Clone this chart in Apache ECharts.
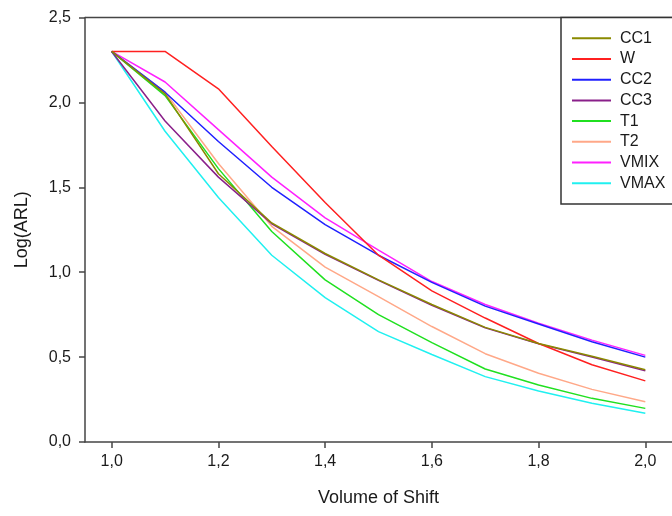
<!DOCTYPE html>
<html>
<head>
<meta charset="utf-8">
<script src="https://cdn.jsdelivr.net/npm/echarts@6/dist/echarts.min.js"></script>
<style>
html,body{margin:0;padding:0;background:#fff;}
#chart{width:672px;height:516px;}
</style>
</head>
<body>
<div id="chart"></div>
<script>
const shifts = [1.0, 1.1, 1.2, 1.3, 1.4, 1.5, 1.6, 1.7, 1.8, 1.9, 2.0];
const xTicks = [1.0, 1.2, 1.4, 1.6, 1.8, 2.0];
const yTicks = [0, 0.5, 1.0, 1.5, 2.0, 2.5];

const seriesNames = ['CC1', 'W', 'CC2', 'CC3', 'T1', 'T2', 'VMIX', 'VMAX'];
const cc1  = [2.30, 2.05, 1.58, 1.29, 1.11, 0.955, 0.81, 0.675, 0.58, 0.505, 0.425];
const w    = [2.30, 2.30, 2.08, 1.74, 1.41, 1.10, 0.89, 0.73, 0.58, 0.455, 0.36];
const cc2  = [2.30, 2.06, 1.77, 1.50, 1.28, 1.10, 0.94, 0.80, 0.695, 0.59, 0.50];
const cc3  = [2.30, 1.89, 1.56, 1.285, 1.105, 0.952, 0.805, 0.672, 0.578, 0.50, 0.42];
const t1   = [2.30, 2.04, 1.61, 1.24, 0.955, 0.75, 0.585, 0.43, 0.336, 0.257, 0.198];
const t2   = [2.30, 2.06, 1.64, 1.27, 1.03, 0.856, 0.68, 0.52, 0.405, 0.31, 0.237];
const vmix = [2.30, 2.12, 1.84, 1.56, 1.32, 1.13, 0.945, 0.81, 0.70, 0.60, 0.51];
const vmax = [2.30, 1.83, 1.44, 1.10, 0.85, 0.65, 0.515, 0.385, 0.30, 0.228, 0.169];

const allValues = [cc1, w, cc2, cc3, t1, t2, vmix, vmax];
const colors = ['#8a8a00', '#ff2020', '#2020ff', '#8a208a', '#20e020', '#ffa888', '#ff20ff', '#20f0f0'];

const axisColor = '#454545';
const fontFam = '"Liberation Sans", Arial, sans-serif';
const fmt = v => Number(v).toFixed(1).replace('.', ',');

const chart = echarts.init(document.getElementById('chart'), null, {renderer: 'canvas'});
chart.setOption({
  backgroundColor: '#ffffff',
  animation: false,
  grid: {
    left: 85, right: -4.25, top: 17.5, bottom: 74,
    show: false
  },
  graphic: [{
    type: 'polyline', z: 90, silent: true,
    shape: {points: [[720, 204], [561, 204], [561, 17.5], [720, 17.5]]},
    style: {fill: '#ffffff', stroke: '#333', lineWidth: 1.5}
  }, {
    type: 'line', z: 5, silent: true,
    shape: {x1: 85, y1: 17.5, x2: 720, y2: 17.5},
    style: {stroke: axisColor, lineWidth: 1.5}
  }],
  legend: {
    orient: 'vertical',
    left: 561, top: 17.5,
    z: 100,
    data: seriesNames,
    icon: 'rect',
    itemWidth: 39, itemHeight: 2,
    itemGap: 4.7,
    padding: [12.8, 4, 12.7, 11],
    textStyle: {fontFamily: fontFam, fontSize: 16, color: '#1a1a1a', padding: [0, 0, 0, 4]}
  },
  xAxis: {
    type: 'value', min: 0.95, max: 2.05,
    name: 'Volume of Shift', nameLocation: 'middle', nameGap: 47,
    nameTextStyle: {fontFamily: fontFam, fontSize: 18, color: '#1a1a1a'},
    axisLine: {show: true, onZero: false, lineStyle: {color: axisColor, width: 1.5}},
    axisTick: {show: true, length: 6, customValues: xTicks, lineStyle: {color: axisColor, width: 1.5}},
    axisLabel: {customValues: xTicks, formatter: fmt, margin: 12, fontFamily: fontFam, fontSize: 16, color: '#1a1a1a'},
    splitLine: {show: false}
  },
  yAxis: {
    type: 'value', min: 0, max: 2.5, interval: 0.5,
    name: 'Log(ARL)', nameLocation: 'middle', nameGap: 54,
    nameTextStyle: {fontFamily: fontFam, fontSize: 18, color: '#1a1a1a'},
    axisLine: {show: true, lineStyle: {color: axisColor, width: 1.5}},
    axisTick: {show: true, length: 6, lineStyle: {color: axisColor, width: 1.5}},
    axisLabel: {formatter: fmt, margin: 14, fontFamily: fontFam, fontSize: 16, color: '#1a1a1a'},
    splitLine: {show: false}
  },
  series: seriesNames.map((name, i) => ({
    name: name,
    type: 'line',
    data: shifts.map((x, j) => [x, allValues[i][j]]),
    symbol: 'none',
    lineStyle: {color: colors[i], width: 1.5},
    itemStyle: {color: colors[i]},
    z: 10 - i
  }))
});
</script>
</body>
</html>
